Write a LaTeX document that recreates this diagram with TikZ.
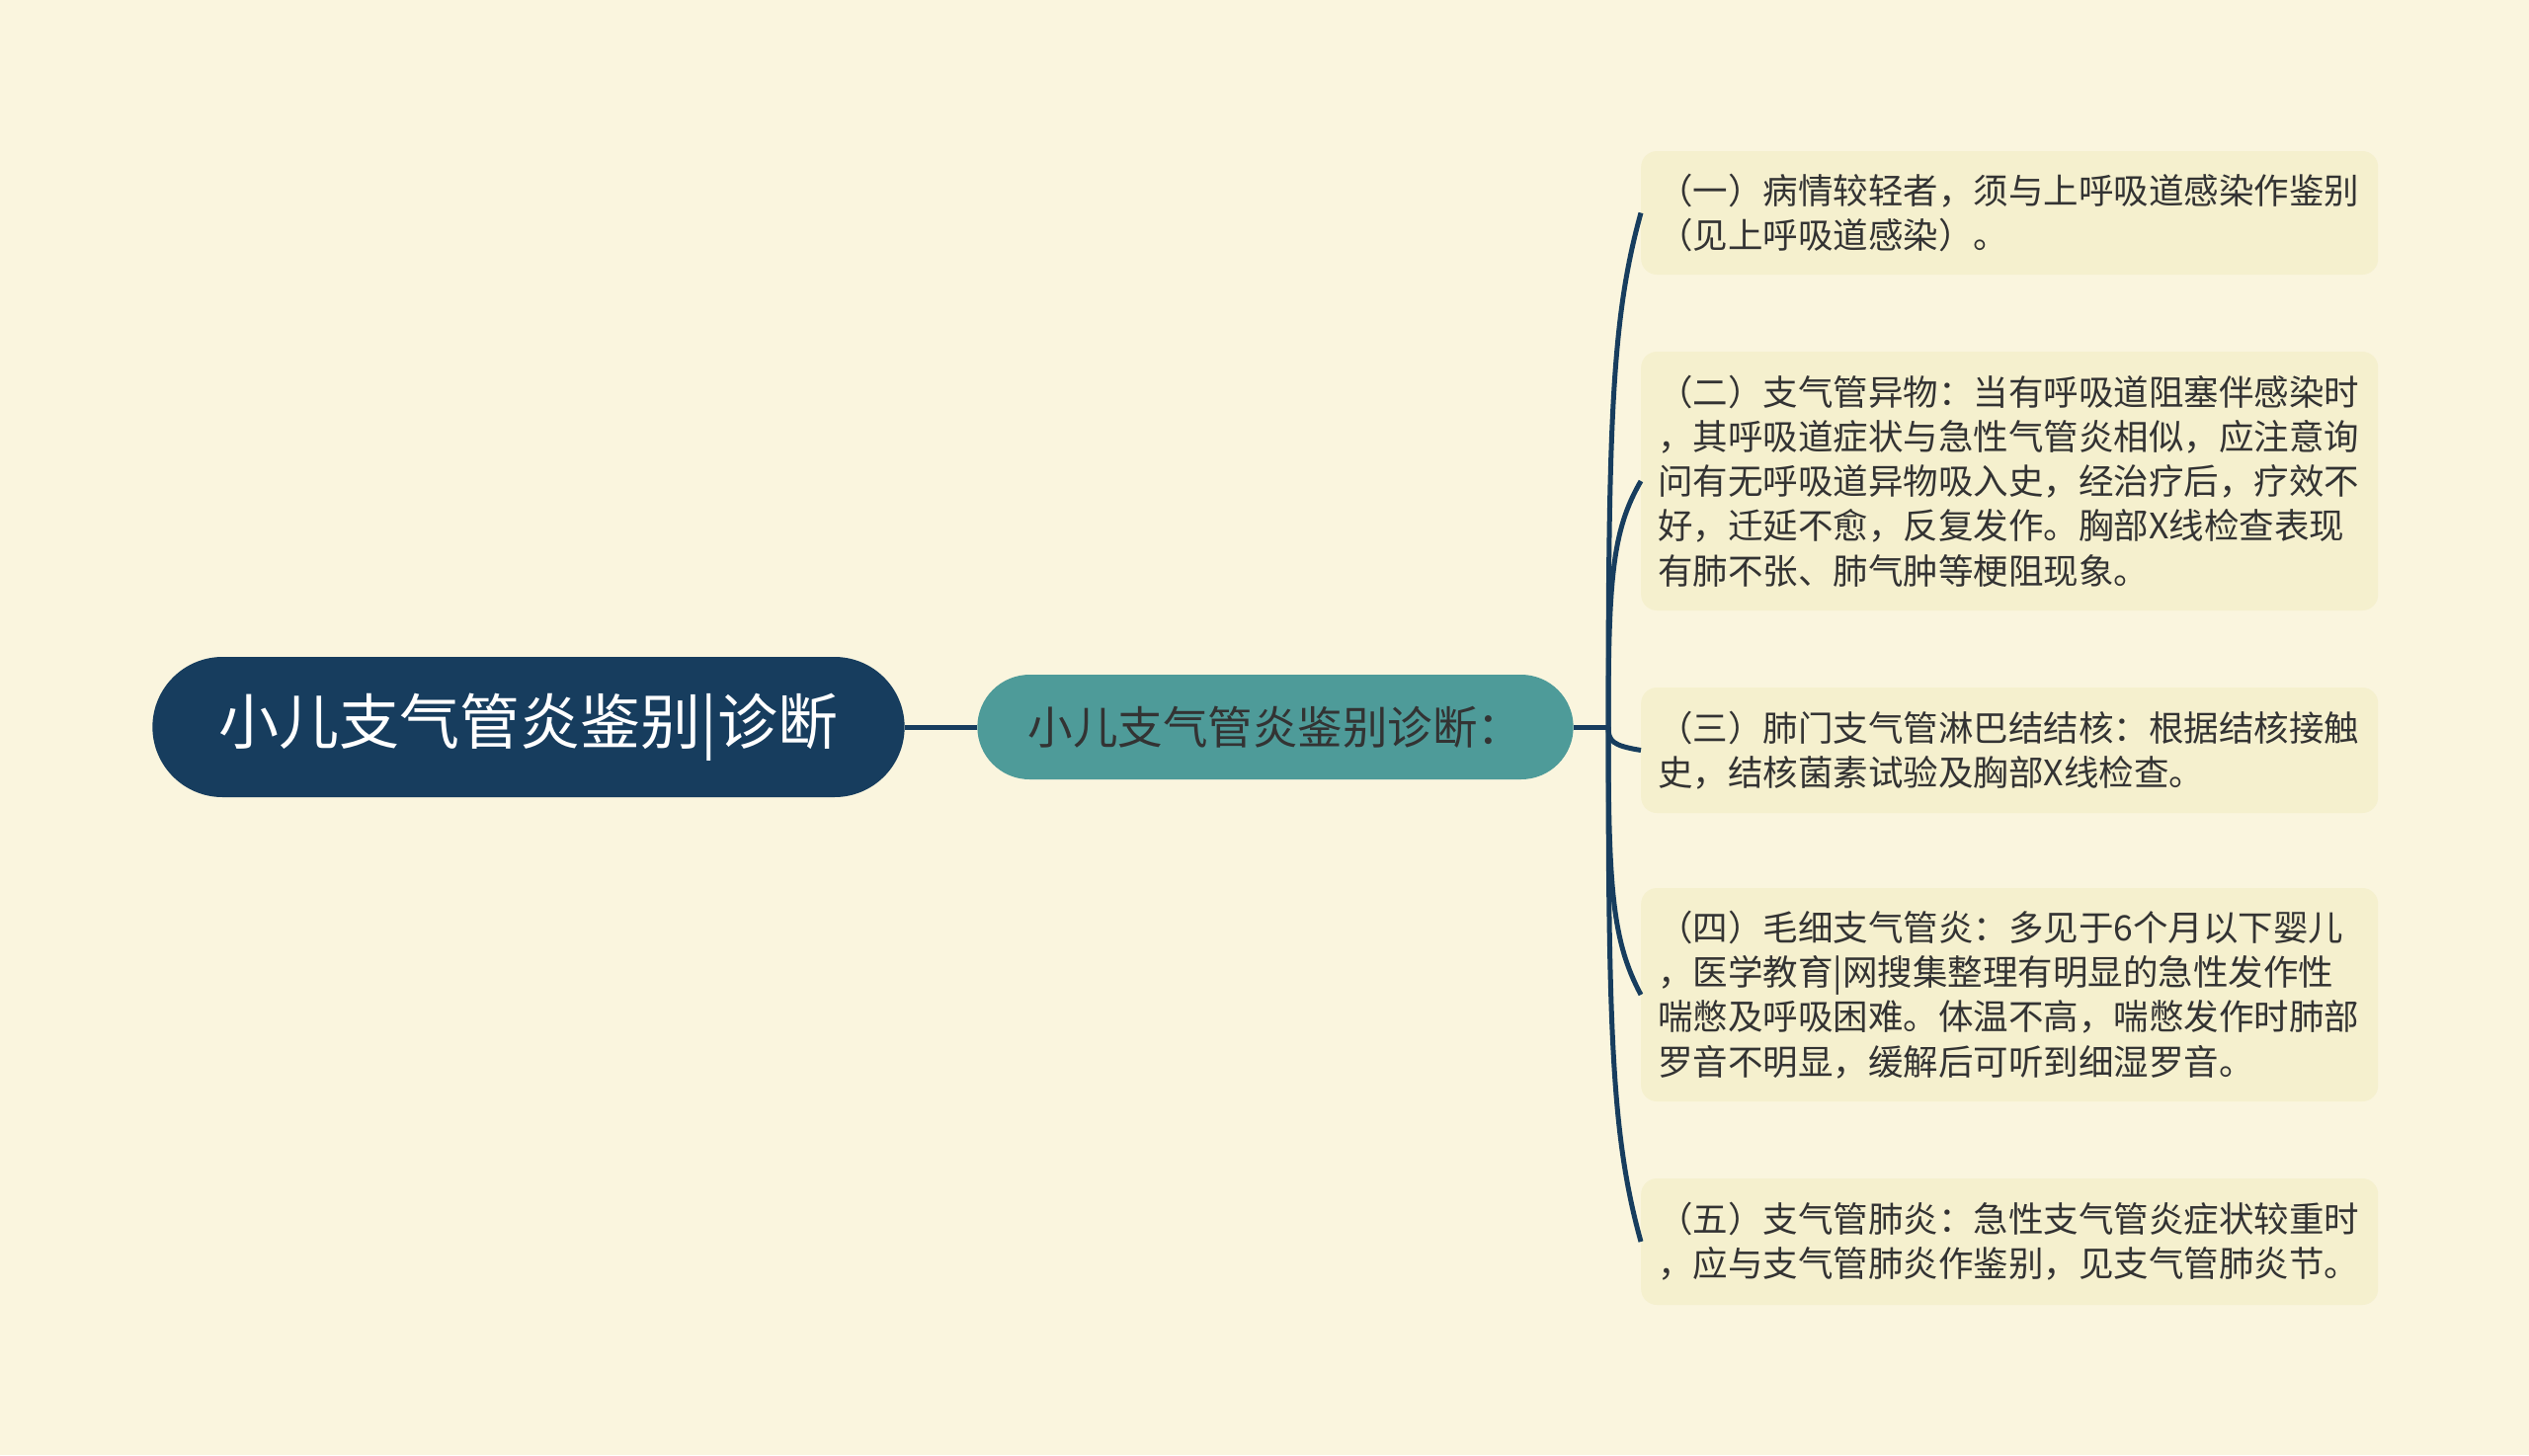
\documentclass[tikz,border=0pt]{standalone}
\usepackage{fontspec}
\usetikzlibrary{shapes.misc}
\newfontfamily\cjk{Noto Sans CJK SC}
\definecolor{bgcol}{RGB}{250,245,222}
\definecolor{navy}{RGB}{23,61,94}
\definecolor{tealnode}{RGB}{78,155,153}
\definecolor{leafcol}{RGB}{245,240,206}
\definecolor{txtcol}{RGB}{51,51,51}

\begin{document}
\begin{tikzpicture}[x=1pt,y=-1pt,
    rootnode/.style={rounded rectangle,fill=navy,text=white,minimum width=768pt,minimum height=142pt,
                     font=\cjk\fontsize{61}{72}\selectfont},
    midnode/.style={rounded rectangle,fill=tealnode,text=txtcol,minimum width=610pt,minimum height=106pt,
                    font=\cjk\fontsize{45.5}{54}\selectfont},
    leaf/.style={rectangle,rounded corners=16pt,fill=leafcol,text=txtcol,anchor=west,align=left,
                 text width=712pt,inner xsep=17pt,font=\cjk\fontsize{35.5}{45.3}\selectfont},
    link/.style={draw=navy,line width=5pt}]
    \useasboundingbox[fill=bgcol] (0,0) rectangle (2560,1473);

    \node (root) [rootnode] at (535,736) {小儿支气管炎鉴别|诊断};
    \node (mid) [midnode] at (1291,736) {小儿支气管炎鉴别诊断：};
    \coordinate (fork) at (1628,736);

    \node (lfa) [leaf,minimum height=125pt] at (1661,215.5) {（一）病情较轻者，须与上呼吸道感染作鉴别\\（见上呼吸道感染）。};
    \node (lfb) [leaf,minimum height=262pt] at (1661,487) {（二）支气管异物：当有呼吸道阻塞伴感染时\\，其呼吸道症状与急性气管炎相似，应注意询\\问有无呼吸道异物吸入史，经治疗后，疗效不\\好，迁延不愈，反复发作。胸部X线检查表现\\有肺不张、肺气肿等梗阻现象。};
    \node (lfc) [leaf,minimum height=127pt] at (1661,759.5) {（三）肺门支气管淋巴结结核：根据结核接触\\史，结核菌素试验及胸部X线检查。};
    \node (lfd) [leaf,minimum height=216pt] at (1661,1007) {（四）毛细支气管炎：多见于6个月以下婴儿\\，医学教育|网搜集整理有明显的急性发作性\\喘憋及呼吸困难。体温不高，喘憋发作时肺部\\罗音不明显，缓解后可听到细湿罗音。};
    \node (lfe) [leaf,minimum height=128pt] at (1661,1257) {（五）支气管肺炎：急性支气管炎症状较重时\\，应与支气管肺炎作鉴别，见支气管肺炎节。};

    \draw[link] (root) -- (mid);
    \draw[link] (mid.east) -- (fork);
    % branches out of the fork, one per leaf
    \foreach \n/\y in {lfa/215.5,lfb/487,lfc/759.5,lfd/1007,lfe/1257}
        \draw[link] (fork) .. controls (1628,{736+0.6*(\y-736)}) and (1632,{\y+0.2*(736-\y)}) .. (\n.west);
\end{tikzpicture}
\end{document}
